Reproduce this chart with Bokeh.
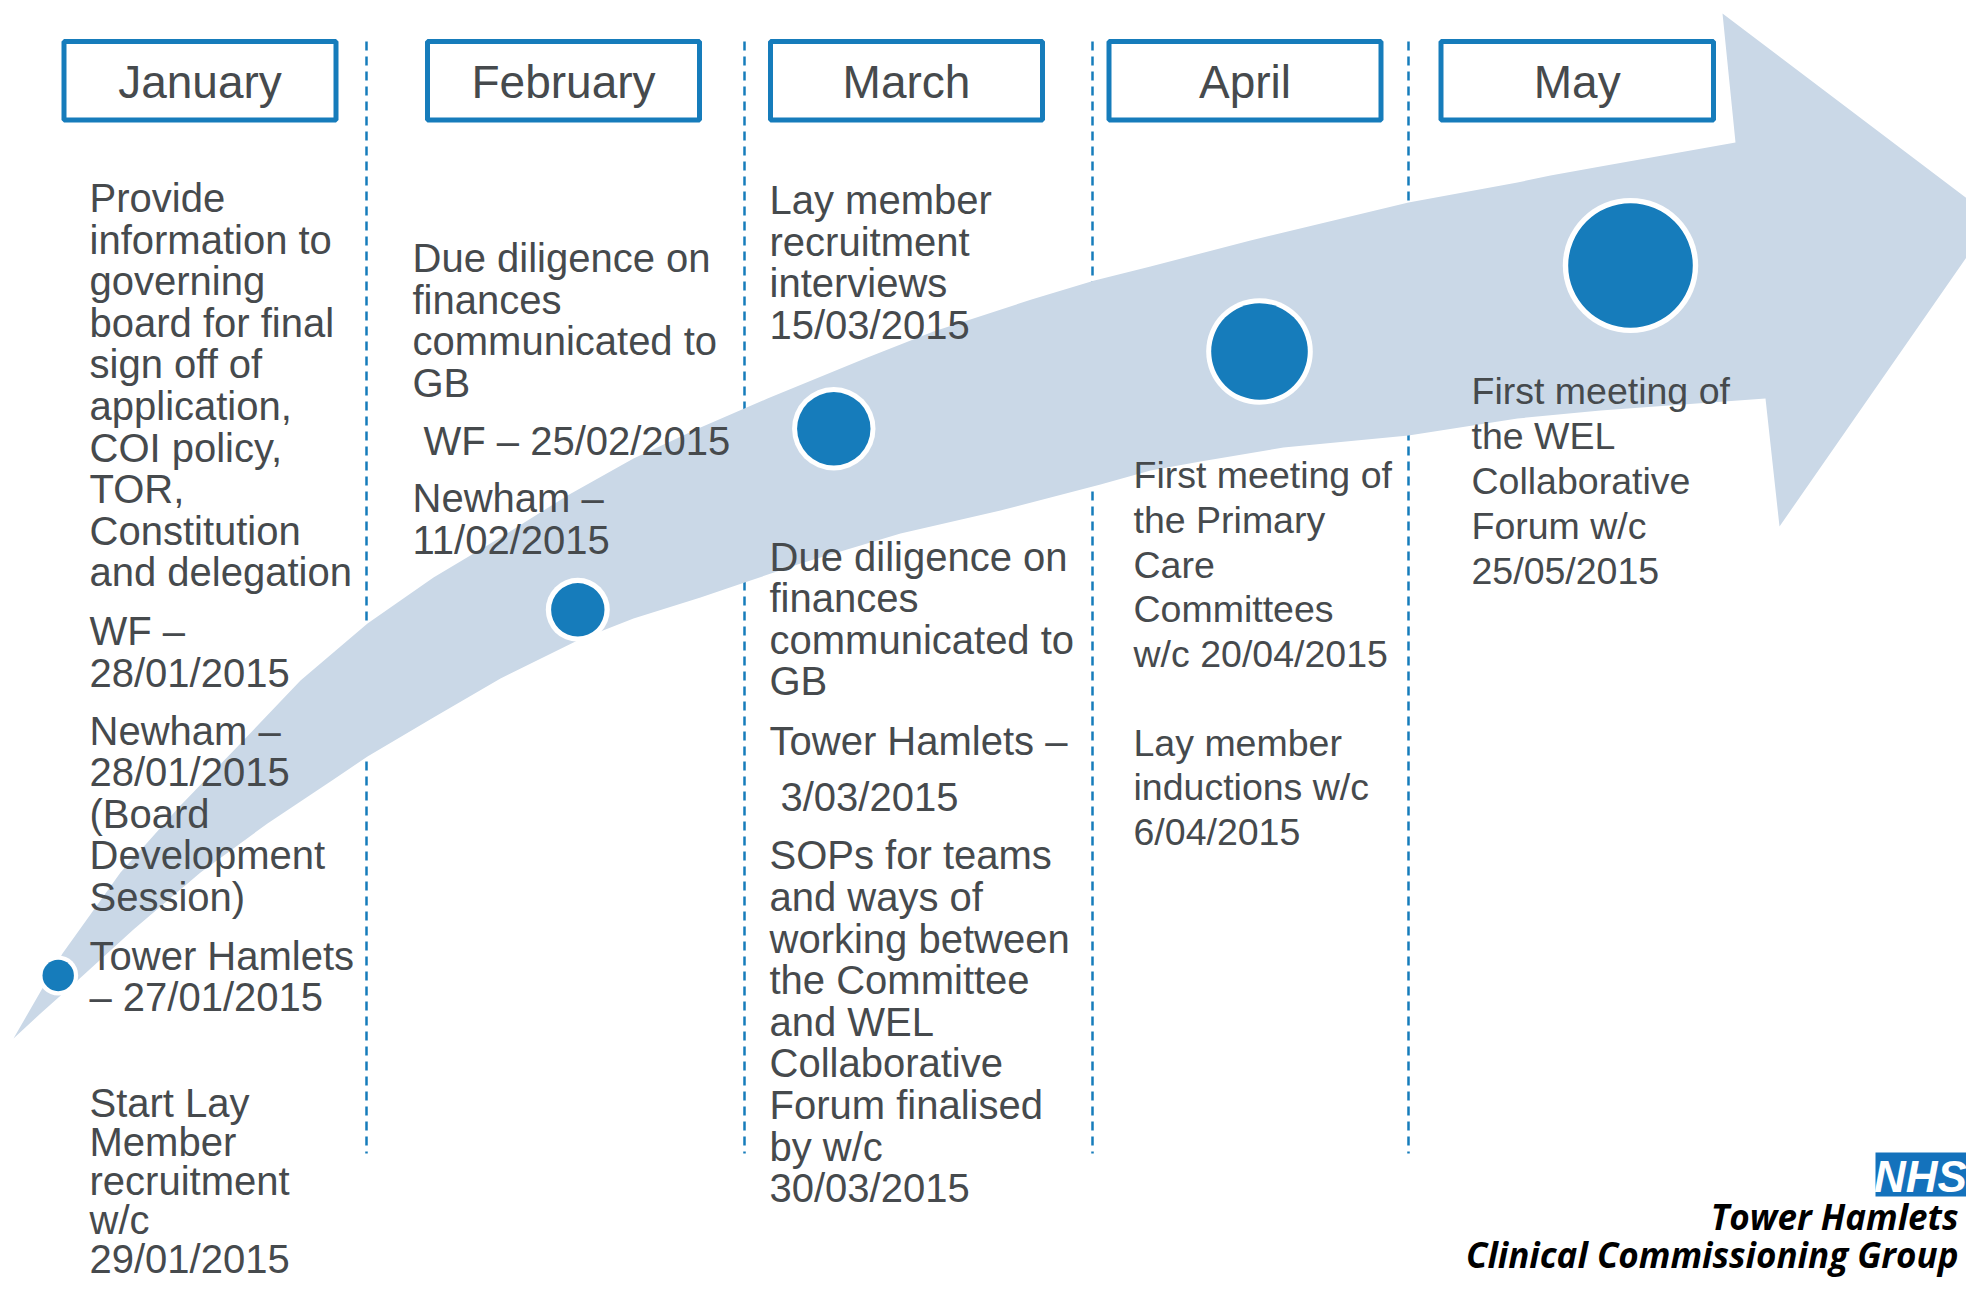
from bokeh.plotting import figure
from bokeh.models import Range1d
from bokeh.embed import file_html
from bokeh.resources import INLINE
from bokeh.core.properties import value

# ---------------- content ----------------
months = ["January", "February", "March", "April", "May"]

jan_items = [
    ["Provide", "information to", "governing", "board for final", "sign off of",
     "application,", "COI policy,", "TOR,", "Constitution", "and delegation"],
    ["WF –", "28/01/2015"],
    ["Newham –", "28/01/2015", "(Board", "Development", "Session)"],
    ["Tower Hamlets", "– 27/01/2015"],
    ["Start Lay", "Member", "recruitment", "w/c", "29/01/2015"],
]
feb_items = [
    ["Due diligence on", "finances", "communicated to", "GB"],
    ["WF – 25/02/2015"],
    ["Newham –", "11/02/2015"],
]
mar_items = [
    ["Lay member", "recruitment", "interviews", "15/03/2015"],
    ["Due diligence on", "finances", "communicated to", "GB"],
    ["Tower Hamlets –"],
    ["3/03/2015"],
    ["SOPs for teams", "and ways of", "working between", "the Committee",
     "and WEL", "Collaborative", "Forum finalised", "by w/c", "30/03/2015"],
]
apr_items = [
    ["First meeting of", "the Primary", "Care", "Committees", "w/c 20/04/2015"],
    ["Lay member", "inductions w/c", "6/04/2015"],
]
may_items = [
    ["First meeting of", "the WEL", "Collaborative", "Forum w/c", "25/05/2015"],
]
logo_lines = ["Tower Hamlets", "Clinical Commissioning Group"]

# ---------------- layout (pixel space) ----------------
GREY = "#464A4D"
BLUE = "#167CBB"
BAND = "#CAD8E7"
FONT = "Liberation Sans"
SHIFT = 0.347  # baseline correction, in em


def ty(baseline, fs):
    return baseline - SHIFT * fs


box_left = [63.5, 427, 770, 1108.5, 1440.5]
box_right = [335.5, 699, 1042, 1380.5, 1713]
box_top, box_bottom = 41, 119.5
label_baseline = 97.5

divider_x = [366, 744, 1092, 1408]
divider_top, divider_bottom = 41, 1153

columns = [
    # items, x, paragraph baselines, x offsets, line spacing(s), font size
    (jan_items, 89, [211.4, 644.7, 744, 969, 1116], [0, 0, 0, 0, 0], [41.6, 41.6, 41.6, 41.6, 39], 40),
    (feb_items, 412, [271.6, 454, 511.7], [0, 11, 0], [41.5] * 3, 40),
    (mar_items, 769, [213.5, 570, 754, 810, 868.7], [0, 0, 0, 11, 0], [41.6] * 5, 40),
    (apr_items, 1133, [488, 755.4], [0, 0], [44.6] * 2, 37.5),
    (may_items, 1471, [404], [0], [44.8], 37.5),
]

dot_x = [57.7, 577.3, 833.3, 1259, 1630]
dot_y = [975, 609.3, 428.3, 351, 265]
dot_r = [15.7, 26.7, 36.7, 48.3, 62.3]
ring = [4.3, 5.3, 5.0, 5.0, 5.4]

upper_edge = [(13, 1038), (62, 953), (120, 872), (180, 805), (240, 743), (300, 680),
              (367, 623), (433, 577), (500, 537), (567, 495), (633, 458), (700, 427),
              (767, 398), (867, 357), (933, 331), (1031, 299), (1094, 280), (1150, 266),
              (1250, 240), (1408, 202), (1517, 182), (1550, 175), (1600, 166), (1735, 142)]
head = [(1722, 13), (1993, 218), (1779, 526), (1765, 398)]
lower_edge = [(1600, 410), (1517, 418), (1408, 435), (1283, 447), (1200, 461), (1150, 470),
              (1100, 484), (1000, 510), (900, 533), (800, 563), (750, 580), (700, 597),
              (633, 618), (577, 640), (500, 678), (433, 717), (367, 756), (333, 779),
              (267, 823), (200, 872), (133, 929), (77, 980), (40, 1013)]
arrow = upper_edge + head + lower_edge

W, H = 1966, 1282
p = figure(width=W, height=H, x_range=Range1d(0, W), y_range=Range1d(H, 0),
           output_backend="svg", toolbar_location=None, x_axis_type=None, y_axis_type=None,
           min_border=0, min_border_left=0, min_border_right=0, min_border_top=0,
           min_border_bottom=0)
p.outline_line_color = None
p.grid.visible = False
p.background_fill_color = "white"
p.border_fill_color = "white"

# dashed dividers
p.segment(x0=divider_x, y0=[divider_top] * 4, x1=divider_x, y1=[divider_bottom] * 4,
          line_color=BLUE, line_width=2.5, line_dash="9 6")

# arrow band
p.patch([pt[0] for pt in arrow], [pt[1] for pt in arrow], fill_color=BAND, line_color=None)

# milestone dots
p.circle(x=dot_x, y=dot_y, radius=[r + w for r, w in zip(dot_r, ring)],
         fill_color="white", line_color=None)
p.circle(x=dot_x, y=dot_y, radius=dot_r, fill_color=BLUE, line_color=None)

# month boxes
p.quad(left=box_left, right=box_right, top=[box_top] * 5, bottom=[box_bottom] * 5,
       fill_color="white", line_color=BLUE, line_width=5)
p.text(x=[(l + r) / 2 for l, r in zip(box_left, box_right)], y=[ty(label_baseline, 46)] * 5,
       text=months, text_font=value(FONT), text_font_size="46px", text_color=GREY,
       text_align="center", text_baseline="alphabetic")

# column texts
for items, x0, starts, offs, gaps, fs in columns:
    xs, ys, ts = [], [], []
    for para, y0, dx, gap in zip(items, starts, offs, gaps):
        for i, line in enumerate(para):
            xs.append(x0 + dx)
            ys.append(ty(y0 + i * gap, fs))
            ts.append(line)
    p.text(x=xs, y=ys, text=ts, text_font=value(FONT), text_font_size=f"{fs}px",
           text_color=GREY, text_align="left", text_baseline="alphabetic")

# NHS logo
p.quad(left=[1875], right=[1966], top=[1152], bottom=[1196], fill_color="#1472BC", line_color=None)
p.text(x=[1920], y=[ty(1191, 44)], text=["NHS"], text_font=value(FONT), text_font_size="44px",
       text_font_style="bold italic", text_color="white", text_align="center",
       text_baseline="alphabetic")
p.text(x=[1958, 1958], y=[ty(1228, 35), ty(1266, 35)], text=logo_lines,
       text_font=value("Open Sans"), text_font_size="35px", text_font_style="bold italic",
       text_color="black", text_align="right", text_baseline="alphabetic")

open("out.html", "w").write(file_html(p, INLINE))
